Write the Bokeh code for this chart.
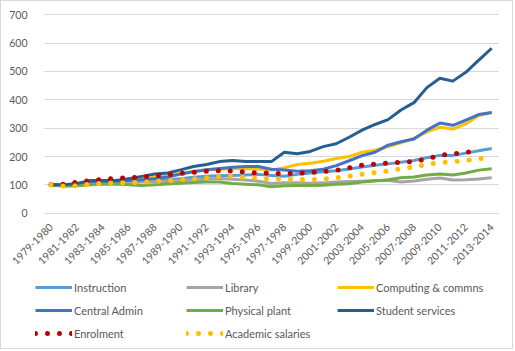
import math
from bokeh.plotting import figure
from bokeh.models import Legend, LegendItem, FixedTicker, Range1d, Grid
from bokeh.embed import file_html
from bokeh.resources import INLINE

years = [f"{y}-{y+1}" for y in range(1979, 2014)]
tick_labels = years[::2]
y_ticks = list(range(0, 701, 100))

instruction = [100, 97, 100, 104, 106, 108, 110, 112, 115, 118, 122, 127, 130, 132, 133, 135, 137, 133, 130, 137,
               142, 146, 150, 156, 163, 169, 174, 180, 186, 196, 204, 204, 212, 220, 228]
library = [100, 97, 100, 104, 106, 108, 108, 110, 112, 112, 115, 117, 120, 122, 120, 117, 113, 105, 107, 107,
           106, 107, 110, 112, 113, 115, 115, 110, 114, 120, 124, 117, 118, 121, 125]
computing = [100, 98, 102, 108, 110, 112, 115, 120, 127, 133, 140, 148, 153, 155, 157, 157, 156, 152, 160, 172,
             176, 183, 193, 200, 215, 222, 235, 248, 265, 287, 303, 297, 315, 345, 355]
central_admin = [100, 98, 102, 110, 110, 112, 115, 118, 122, 128, 138, 146, 153, 158, 162, 165, 165, 155, 152, 148,
                 150, 155, 168, 185, 203, 215, 240, 252, 262, 293, 318, 310, 328, 348, 355]
physical_plant = [100, 95, 97, 100, 102, 103, 100, 98, 100, 103, 106, 108, 110, 110, 105, 102, 100, 93, 97, 98,
                  98, 99, 102, 104, 110, 114, 118, 125, 128, 135, 138, 135, 142, 152, 157]
student_services = [100, 100, 105, 115, 115, 115, 122, 130, 138, 142, 153, 165, 172, 182, 186, 182, 182, 182, 215, 210,
                    218, 235, 245, 268, 293, 313, 330, 364, 390, 443, 476, 466, 497, 540, 582]
enrolment = [100, 102, 110, 115, 119, 123, 125, 128, 132, 136, 140, 144, 148, 150, 149, 145, 142, 141, 140, 141,
             143, 147, 151, 160, 170, 173, 177, 180, 182, 192, 204, 209, 215, 220]
academic_salaries = [100, 96, 97, 103, 106, 107, 108, 109, 112, 115, 118, 121, 125, 130, 130, 127, 123, 121, 121, 120,
                     118, 121, 125, 131, 137, 143, 149, 157, 164, 172, 178, 182, 186, 192, 198]

FONT = "Lato"
TXT = "#595959"
n = len(years)

# Frame covers the whole canvas; the plotting area (44..498 px, 700 at 14 px, 0 at 213 px)
# is placed through the ranges, and both axes are pinned at the plot area's edges.
W, H = 513, 349
band = (497.7 - 44) / n
x0 = (1 - 44) / band - 0.5
x1 = (W + 1 - 44) / band - 0.5
ppu = (212.7 - 14.3) / 700
ytop = (212.7 - 1) / ppu
ybot = (212.7 - 1 - H) / ppu

p = figure(width=W, height=H, output_backend="svg", toolbar_location=None,
           x_range=Range1d(x0, x1), y_range=Range1d(ybot, ytop),
           min_border_left=0, min_border_right=0, min_border_top=0, min_border_bottom=0)
p.styles = {"border": "1px solid #D9D9D9"}
p.outline_line_color = None
p.background_fill_color = "white"
p.border_fill_color = "white"

p.xgrid.grid_line_color = None
if "cross_bounds" in Grid.properties():
    p.ygrid.grid_line_color = "#D9D9D9"
    p.ygrid.cross_bounds = (-0.5, n - 0.5)
    p.ygrid.bounds = (0, 700)
else:
    p.ygrid.grid_line_color = None
    p.segment(x0=[-0.5] * len(y_ticks), x1=[n - 0.5] * len(y_ticks), y0=y_ticks, y1=y_ticks,
              line_color="#D9D9D9", line_width=1)

p.yaxis.ticker = FixedTicker(ticks=y_ticks)
p.xaxis.ticker = FixedTicker(ticks=list(range(0, n, 2)))
p.xaxis.major_label_overrides = {i: years[i] for i in range(0, n, 2)}
p.xaxis.major_label_orientation = math.pi / 4
p.xaxis.fixed_location = 0
p.yaxis.fixed_location = -0.5
for ax in (p.xaxis, p.yaxis):
    ax.axis_line_color = None
    ax.major_tick_line_color = None
    ax.minor_tick_line_color = None
    ax.major_label_text_color = TXT
    ax.major_label_text_font = FONT
    ax.major_label_text_font_size = "10.5px"
p.yaxis.major_label_standoff = 11
p.xaxis.major_label_standoff = 6

x_all = list(range(n))
series = [
    ("Instruction", instruction, "#5B9BD5"),
    ("Library", library, "#A5A5A5"),
    ("Computing & commns", computing, "#FFC000"),
    ("Central Admin", central_admin, "#4472C4"),
    ("Physical plant", physical_plant, "#70AD47"),
    ("Student services", student_services, "#255E91"),
]
dotted = [
    ("Enrolment", enrolment, "#C00000"),
    ("Academic salaries", academic_salaries, "#FFC000"),
]

items = []
for name, vals, col in series:
    r = p.line(x_all[:len(vals)], vals, line_color=col, line_width=3, line_join="round")
    items.append(LegendItem(label=name, renderers=[r]))
for name, vals, col in dotted:
    r = p.line(x_all[:len(vals)], vals, line_color=col, line_width=5, line_dash="0 12", line_cap="round")
    items.append(LegendItem(label=name, renderers=[r]))

legend = Legend(items=items, location=(34, 7), orientation="horizontal", ncols=3,
                glyph_width=37, glyph_height=20, label_height=20, label_width=109,
                label_standoff=2, spacing=3, padding=0, margin=0,
                border_line_color=None, background_fill_alpha=0,
                label_text_font=FONT, label_text_font_size="11px", label_text_color=TXT)
p.add_layout(legend, "center")

open("out.html", "w").write(file_html(p, INLINE))
